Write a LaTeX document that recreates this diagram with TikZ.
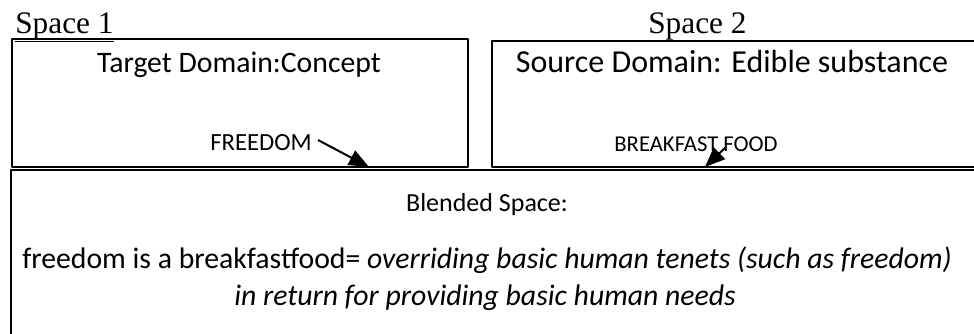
\documentclass[tikz,border=0pt]{standalone}
\usepackage{fontspec}
\setmainfont{Liberation Serif}
\newfontfamily\calfont{Carlito}
\usetikzlibrary{arrows.meta}
\tikzset{
  spacebox/.style={draw, line width=1.4pt, anchor=north west, inner sep=0pt},
  lbl/.style={anchor=base, inner sep=0pt, font=\calfont\fontsize{22.3}{26}\selectfont},
  smalllbl/.style={anchor=base, inner sep=0pt, font=\calfont\fontsize{18}{22}\selectfont},
  blendlbl/.style={anchor=base, inner sep=0pt, font=\calfont\fontsize{22.3}{26}\selectfont},
  spacelbl/.style={anchor=base west, inner sep=0pt, font=\fontsize{23.5}{28}\selectfont},
  maparrow/.style={->, line width=1.5pt}
}
\begin{document}
\begin{tikzpicture}[x=0.75pt, y=-0.75pt, >={Triangle[length=15pt,width=12pt]}, line join=round]
  \useasboundingbox (0,0) rectangle (974,333);
  \clip (0,0) rectangle (974,333);
  % space labels
  \node[spacelbl] (sp1) at (15,33) {\underline{Space 1}};
  \node[spacelbl] (sp2) at (648,33) {\underline{Space 2}};
  % input spaces and blend
  \node[spacebox, minimum width=342pt, minimum height=96pt] (target) at (11,38) {};
  \node[spacebox, minimum width=390pt, minimum height=94.5pt] (source) at (491,40) {};
  \node[spacebox, minimum width=760pt, minimum height=150pt] (blend) at (10,169) {};
  % texts
  \node[lbl] (tdom) at (239,72) {Target Domain:Concept};
  \node[smalllbl, font=\calfont\fontsize{18.5}{22}\selectfont] (free) at (261,150) {FREEDOM};
  \node[lbl, font=\calfont\fontsize{24}{28}\selectfont] (sdom) at (732,72) {Source Domain: Edible substance};
  \node[smalllbl, font=\calfont\fontsize{17}{21}\selectfont] (bfood) at (696,151) {BREAKFAST FOOD};
  \node[blendlbl, font=\calfont\fontsize{19.5}{24}\selectfont] (bhead) at (487,211) {Blended Space:};
  \node[blendlbl] (bline1) at (487,268) {freedom is a breakfastfood= \textit{overriding basic human tenets (such as freedom)}};
  \node[blendlbl] (bline2) at (485,305) {\textit{in return for providing basic human needs}};
  % arrows
  \coordinate (a1) at (318,140);
  \coordinate (h1) at (369,167);
  \coordinate (a2) at (726,147);
  \coordinate (h2) at (705,167);
  \draw[maparrow] (a1) -- (h1);
  \draw[maparrow] (a2) -- (h2);
\end{tikzpicture}
\end{document}
